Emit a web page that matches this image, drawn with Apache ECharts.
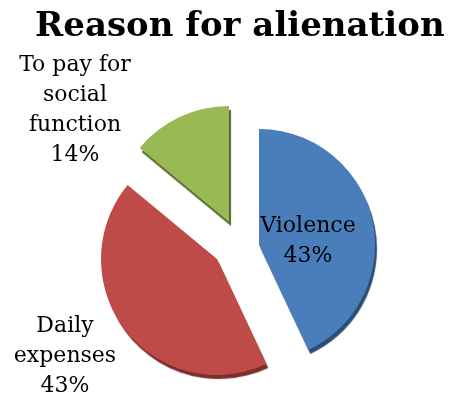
<!DOCTYPE html>
<html>
<head>
<meta charset="utf-8">
<script src="https://cdn.jsdelivr.net/npm/echarts@6/dist/echarts.min.js"></script>
<style>html,body{margin:0;padding:0;background:#fff}#c{width:450px;height:404px}</style>
</head>
<body>
<div id="c"></div>
<script>
var titleText = 'Reason for alienation';
var categories = ['Violence', 'Daily\nexpenses', 'To pay for\nsocial\nfunction'];
var values = [43, 43, 14];

// styling / layout (not data)
var colors = ['#4a7ebb', '#be4b48', '#98b954'];
var edgeColors = ['#2c4d74', '#7a2f2d', '#4f6530'];
// exploded slices: each slice drawn by its own pie layer with its own centre
var sliceCenters = [[259, 245], [217, 259], [229, 222]];
var labelCenters = [[308, 241], [65, 356], [75, 110]];

var chart = echarts.init(document.getElementById('c'), null, {renderer: 'canvas'});

function makeSeries(k) {
  return {
    type: 'pie',
    center: sliceCenters[k],
    radius: [0, 116],
    startAngle: 90,
    clockwise: true,
    percentPrecision: 0,
    silent: true,
    label: {
      show: true,
      position: 'inside',
      formatter: '{b}\n{d}%',
      fontFamily: 'DejaVu Serif',
      fontSize: 22,
      lineHeight: 30,
      color: '#000',
      align: 'center'
    },
    labelLine: { show: false },
    labelLayout: function (p) {
      var c = labelCenters[p.dataIndex];
      var r = p.labelRect;
      return { dx: c[0] - (r.x + r.width / 2), dy: c[1] - (r.y + r.height / 2) };
    },
    emphasis: { disabled: true },
    data: categories.map(function (name, i) {
      var on = i === k;
      return {
        name: name,
        value: values[i],
        itemStyle: on ? {
          color: colors[i],
          shadowColor: edgeColors[i],
          shadowOffsetX: 2,
          shadowOffsetY: 4,
          shadowBlur: 1
        } : { color: 'rgba(0,0,0,0)' },
        label: { show: on }
      };
    })
  };
}

chart.setOption({
  animation: false,
  title: {
    text: titleText,
    left: 35,
    top: 10,
    padding: 0,
    textStyle: { fontFamily: 'DejaVu Serif', fontWeight: 'bold', fontSize: 34, color: '#000' }
  },
  series: [makeSeries(0), makeSeries(1), makeSeries(2)]
});
</script>
</body>
</html>
